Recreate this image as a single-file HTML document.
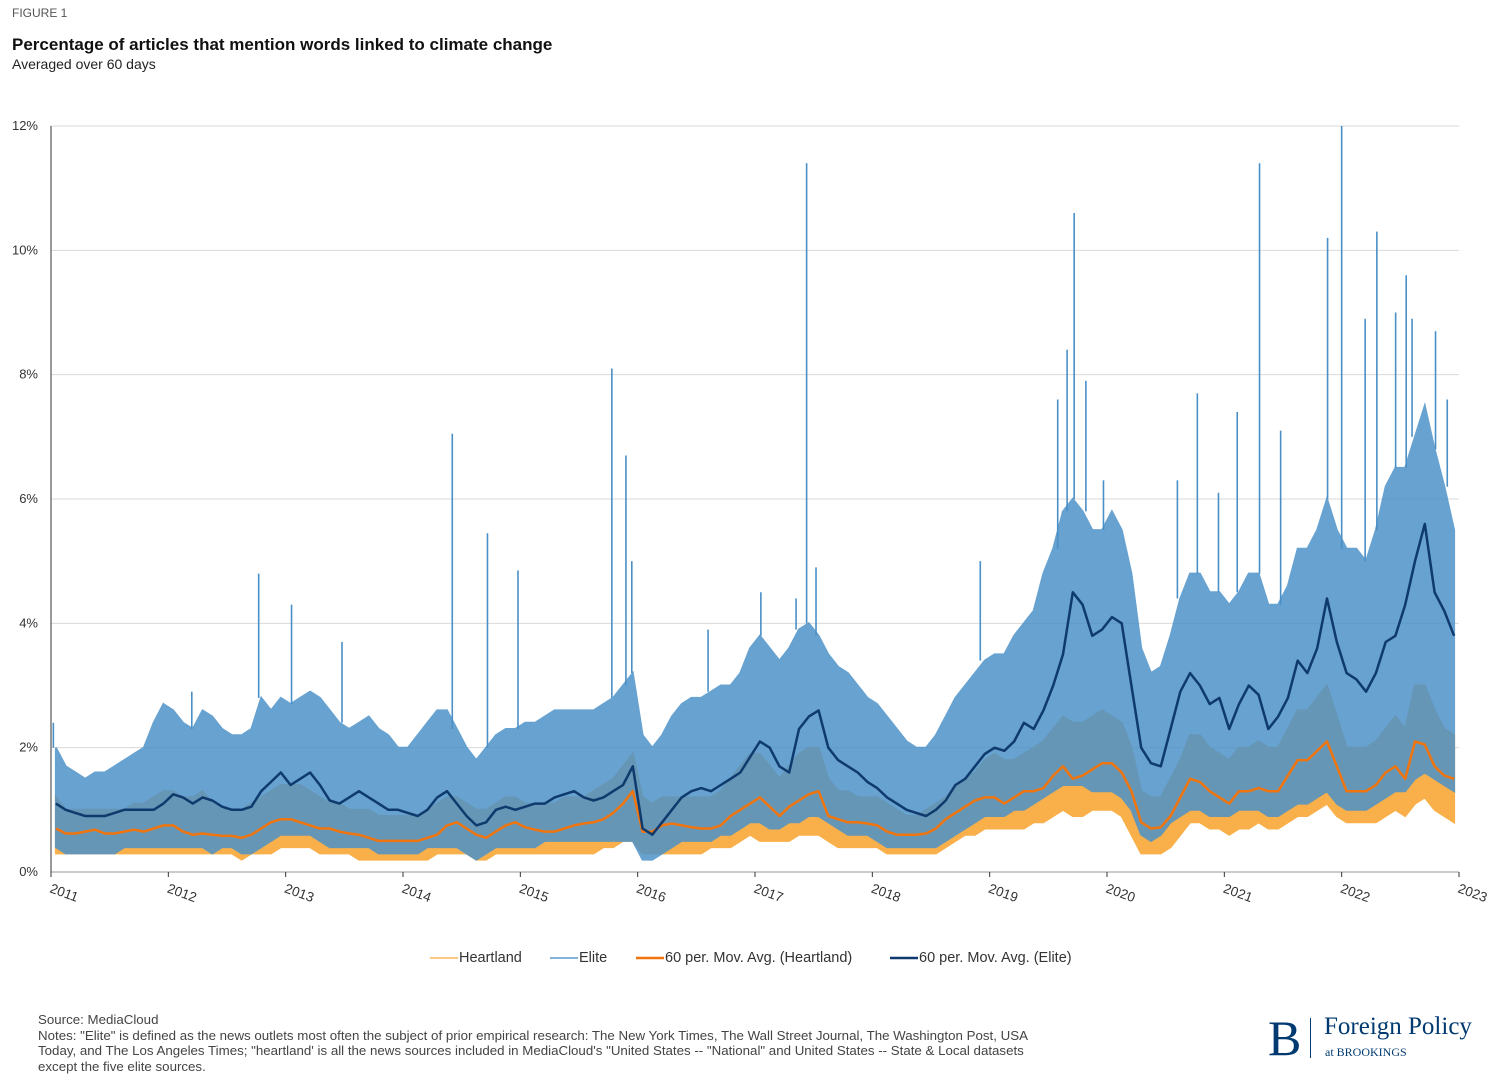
<!DOCTYPE html>
<html><head><meta charset="utf-8"><style>
body{margin:0;background:#fff;font-family:"Liberation Sans",sans-serif;color:#222;}
#wrap{position:relative;width:1499px;height:1087px;overflow:hidden;}
.t{position:absolute;white-space:nowrap;}
</style></head><body>
<div id="wrap">
<div class="t" style="left:12px;top:6px;font-size:12px;color:#555;">FIGURE 1</div>
<div class="t" style="left:12px;top:35px;font-size:17px;font-weight:bold;color:#111;">Percentage of articles that mention words linked to climate change</div>
<div class="t" style="left:12px;top:56px;font-size:14px;color:#222;">Averaged over 60 days</div>
<svg id="chart" width="1499" height="1087" style="position:absolute;left:0;top:0;"></svg>
<div class="t" style="left:38px;top:1012px;font-size:13.3px;color:#444;line-height:15.5px;">Source: MediaCloud<br>Notes: "Elite" is defined as the news outlets most often the subject of prior empirical research: The New York Times, The Wall Street Journal, The Washington Post, USA<br>Today, and The Los Angeles Times; "heartland' is all the news sources included in MediaCloud's "United States -- "National" and United States -- State &amp; Local datasets<br>except the five elite sources.</div>
<div class="t" style="left:1268px;top:1008px;font-family:'Liberation Serif',serif;font-size:50px;color:#003a70;line-height:60px;">B</div>
<div style="position:absolute;left:1310px;top:1018px;width:1px;height:40px;background:#003a70;"></div>
<div class="t" style="left:1324px;top:1013px;font-family:'Liberation Serif',serif;font-size:25px;color:#003a70;">Foreign Policy</div>
<div class="t" style="left:1325px;top:1045px;font-family:'Liberation Serif',serif;font-size:12px;color:#003a70;">at BROOKINGS</div>
</div>
<script>
const startYear=2011;
const yTicks=[0,2,4,6,8,10,12];
const yearLabels=["2011","2012","2013","2014","2015","2016","2017","2018","2019","2020","2021","2022","2023"];
const eliteHigh=[2.0,1.7,1.6,1.5,1.6,1.6,1.7,1.8,1.9,2.0,2.4,2.7,2.6,2.4,2.3,2.6,2.5,2.3,2.2,2.2,2.3,2.8,2.6,2.8,2.7,2.8,2.9,2.8,2.6,2.4,2.3,2.4,2.5,2.3,2.2,2.0,2.0,2.2,2.4,2.6,2.6,2.3,2.0,1.8,2.0,2.2,2.3,2.3,2.4,2.4,2.5,2.6,2.6,2.6,2.6,2.6,2.7,2.8,3.0,3.2,2.2,2.0,2.2,2.5,2.7,2.8,2.8,2.9,3.0,3.0,3.2,3.6,3.8,3.6,3.4,3.6,3.9,4.0,3.8,3.5,3.3,3.2,3.0,2.8,2.7,2.5,2.3,2.1,2.0,2.0,2.2,2.5,2.8,3.0,3.2,3.4,3.5,3.5,3.8,4.0,4.2,4.8,5.2,5.8,6.0,5.8,5.5,5.5,5.8,5.5,4.8,3.6,3.2,3.3,3.8,4.4,4.8,4.8,4.5,4.5,4.3,4.5,4.8,4.8,4.3,4.3,4.6,5.2,5.2,5.5,6.0,5.5,5.2,5.2,5.0,5.5,6.2,6.5,6.5,7.0,7.5,6.8,6.2,5.5];
const eliteLow=[0.4,0.3,0.3,0.3,0.3,0.3,0.3,0.4,0.4,0.4,0.4,0.4,0.4,0.4,0.4,0.4,0.3,0.4,0.4,0.3,0.3,0.4,0.5,0.6,0.6,0.6,0.6,0.5,0.4,0.4,0.4,0.4,0.4,0.3,0.3,0.3,0.3,0.3,0.4,0.4,0.4,0.4,0.3,0.2,0.3,0.4,0.4,0.4,0.4,0.4,0.5,0.5,0.5,0.5,0.5,0.5,0.5,0.5,0.5,0.5,0.2,0.2,0.3,0.4,0.5,0.5,0.5,0.5,0.6,0.6,0.7,0.8,0.8,0.7,0.7,0.8,0.8,0.9,0.9,0.8,0.7,0.6,0.6,0.6,0.5,0.4,0.4,0.4,0.4,0.4,0.4,0.5,0.6,0.7,0.8,0.9,0.9,0.9,1.0,1.0,1.1,1.2,1.3,1.4,1.4,1.4,1.3,1.3,1.3,1.2,1.0,0.6,0.5,0.6,0.8,0.9,1.0,1.0,0.9,0.9,0.9,1.0,1.0,1.0,0.9,0.9,1.0,1.1,1.1,1.2,1.3,1.1,1.0,1.0,1.0,1.1,1.2,1.3,1.3,1.5,1.6,1.5,1.4,1.3];
const heartHigh=[1.2,1.0,1.0,1.0,1.0,1.0,1.0,1.0,1.1,1.1,1.2,1.3,1.3,1.2,1.2,1.3,1.1,1.0,1.0,1.0,1.1,1.2,1.3,1.4,1.4,1.4,1.3,1.2,1.1,1.1,1.0,1.0,1.0,0.9,0.9,0.9,0.9,0.9,1.0,1.1,1.2,1.2,1.1,1.0,1.0,1.1,1.2,1.2,1.1,1.1,1.1,1.1,1.2,1.2,1.2,1.3,1.4,1.5,1.7,1.9,1.2,1.1,1.2,1.2,1.2,1.2,1.2,1.2,1.3,1.5,1.7,1.9,1.9,1.7,1.5,1.7,1.9,2.0,2.0,1.5,1.3,1.3,1.2,1.2,1.2,1.1,1.0,0.9,0.9,1.0,1.1,1.2,1.4,1.5,1.6,1.8,1.9,1.8,1.8,1.9,2.0,2.1,2.3,2.5,2.4,2.4,2.5,2.6,2.5,2.4,2.0,1.3,1.2,1.2,1.5,1.8,2.2,2.2,2.0,1.9,1.8,2.0,2.0,2.1,2.0,2.0,2.3,2.6,2.6,2.8,3.0,2.5,2.0,2.0,2.0,2.1,2.3,2.5,2.3,3.0,3.0,2.6,2.3,2.2];
const heartLow=[0.3,0.3,0.3,0.3,0.3,0.3,0.3,0.3,0.3,0.3,0.3,0.3,0.3,0.3,0.3,0.3,0.3,0.3,0.3,0.2,0.3,0.3,0.3,0.4,0.4,0.4,0.4,0.3,0.3,0.3,0.3,0.2,0.2,0.2,0.2,0.2,0.2,0.2,0.2,0.3,0.3,0.3,0.3,0.2,0.2,0.3,0.3,0.3,0.3,0.3,0.3,0.3,0.3,0.3,0.3,0.3,0.4,0.4,0.5,0.5,0.3,0.3,0.3,0.3,0.3,0.3,0.3,0.4,0.4,0.4,0.5,0.6,0.5,0.5,0.5,0.5,0.6,0.6,0.6,0.5,0.4,0.4,0.4,0.4,0.4,0.3,0.3,0.3,0.3,0.3,0.3,0.4,0.5,0.6,0.6,0.7,0.7,0.7,0.7,0.7,0.8,0.8,0.9,1.0,0.9,0.9,1.0,1.0,1.0,0.9,0.6,0.3,0.3,0.3,0.4,0.6,0.8,0.8,0.7,0.7,0.6,0.7,0.7,0.8,0.7,0.7,0.8,0.9,0.9,1.0,1.1,0.9,0.8,0.8,0.8,0.8,0.9,1.0,0.9,1.1,1.2,1.0,0.9,0.8];
const eliteMA=[1.1,1.0,0.95,0.9,0.9,0.9,0.95,1.0,1.0,1.0,1.0,1.1,1.25,1.2,1.1,1.2,1.15,1.05,1.0,1.0,1.05,1.3,1.45,1.6,1.4,1.5,1.6,1.4,1.15,1.1,1.2,1.3,1.2,1.1,1.0,1.0,0.95,0.9,1.0,1.2,1.3,1.1,0.9,0.75,0.8,1.0,1.05,1.0,1.05,1.1,1.1,1.2,1.25,1.3,1.2,1.15,1.2,1.3,1.4,1.7,0.7,0.6,0.8,1.0,1.2,1.3,1.35,1.3,1.4,1.5,1.6,1.85,2.1,2.0,1.7,1.6,2.3,2.5,2.6,2.0,1.8,1.7,1.6,1.45,1.35,1.2,1.1,1.0,0.95,0.9,1.0,1.15,1.4,1.5,1.7,1.9,2.0,1.95,2.1,2.4,2.3,2.6,3.0,3.5,4.5,4.3,3.8,3.9,4.1,4.0,3.0,2.0,1.75,1.7,2.3,2.9,3.2,3.0,2.7,2.8,2.3,2.7,3.0,2.85,2.3,2.5,2.8,3.4,3.2,3.6,4.4,3.7,3.2,3.1,2.9,3.2,3.7,3.8,4.3,5.0,5.6,4.5,4.2,3.8];
const heartMA=[0.7,0.62,0.62,0.65,0.68,0.62,0.62,0.65,0.68,0.65,0.7,0.75,0.75,0.65,0.6,0.62,0.6,0.58,0.58,0.55,0.6,0.7,0.8,0.85,0.85,0.8,0.75,0.7,0.7,0.65,0.62,0.6,0.55,0.5,0.5,0.5,0.5,0.5,0.55,0.6,0.75,0.8,0.7,0.6,0.55,0.65,0.75,0.8,0.72,0.68,0.65,0.65,0.7,0.75,0.78,0.8,0.85,0.95,1.1,1.3,0.65,0.65,0.75,0.78,0.75,0.72,0.7,0.7,0.75,0.9,1.0,1.1,1.2,1.05,0.9,1.05,1.15,1.25,1.3,0.9,0.85,0.8,0.8,0.78,0.75,0.65,0.6,0.6,0.6,0.62,0.7,0.85,0.95,1.05,1.15,1.2,1.2,1.1,1.2,1.3,1.3,1.35,1.55,1.7,1.5,1.55,1.65,1.75,1.75,1.6,1.3,0.8,0.7,0.72,0.9,1.2,1.5,1.45,1.3,1.2,1.1,1.3,1.3,1.35,1.3,1.3,1.55,1.8,1.8,1.95,2.1,1.7,1.3,1.3,1.3,1.4,1.6,1.7,1.5,2.1,2.05,1.7,1.55,1.5];
const spikeDates=[2011.02,2012.2,2012.77,2013.05,2013.48,2014.42,2014.72,2014.98,2015.78,2015.9,2015.95,2016.6,2017.05,2017.35,2017.44,2017.52,2018.92,2019.58,2019.66,2019.72,2019.82,2019.97,2020.6,2020.77,2020.95,2021.11,2021.3,2021.48,2021.88,2022.0,2022.2,2022.3,2022.46,2022.55,2022.6,2022.8,2022.9];
const spikeValues=[2.4,2.9,4.8,4.3,3.7,7.05,5.45,4.85,8.1,6.7,5.0,3.9,4.5,4.4,11.4,4.9,5.0,7.6,8.4,10.6,7.9,6.3,6.3,7.7,6.1,7.4,11.4,7.1,10.2,12.0,8.9,10.3,9.0,9.6,8.9,8.7,7.6];

const NS='http://www.w3.org/2000/svg';
const svg=document.getElementById('chart');
const X0=51,X1=1459,Y0=872,Y1=126;
const xScale=t=>X0+(t-startYear)/12*(X1-X0);
const yScale=v=>Y0-v/12*(Y0-Y1);
const mx=i=>xScale(startYear+(i+0.5)/12);
function mk(tag,attrs){const e=document.createElementNS(NS,tag);for(const k in attrs)e.setAttribute(k,attrs[k]);svg.appendChild(e);return e;}

yTicks.forEach(v=>{
  const g=mk('line',{x1:X0,x2:X1,y1:yScale(v),y2:yScale(v),stroke:v===0?'#999':'#d9d9d9','stroke-width':1});
  
  
  const t=mk('text',{x:38,y:yScale(v)+4,'text-anchor':'end','font-size':13,fill:'#333','font-family':'Liberation Sans, sans-serif'});
  t.textContent=v+'%';
  
  
});
const ax=mk('line',{x1:X0,x2:X0,y1:Y1,y2:Y0,stroke:'#333','stroke-width':1});


yearLabels.forEach((lab,i)=>{
  const x=xScale(startYear+i);
  const tk=mk('line',{x1:x,x2:x,y1:Y0,y2:Y0+5,stroke:'#333'});
  
  
  const t=mk('text',{x:x-2,y:Y0+20,'font-size':13.5,fill:'#333','font-family':'Liberation Sans, sans-serif',transform:`rotate(20 ${x-2} ${Y0+20})`});
  t.textContent=lab;
  
  
});
function band(hi,lo,color,name,op){
  let d='';
  hi.forEach((v,i)=>{d+=(i?'L':'M')+mx(i).toFixed(1)+','+yScale(v).toFixed(1);});
  for(let i=lo.length-1;i>=0;i--)d+='L'+mx(i).toFixed(1)+','+yScale(lo[i]).toFixed(1);
  const p=mk('path',{d:d+'Z',fill:color,stroke:color,'stroke-width':2,opacity:op});
  
  
}
band(heartHigh,heartLow,'#f9b04a','heartland-series',1);
band(eliteHigh,eliteLow,'#4d92c8','elite-series',0.85);
spikeDates.forEach((d,i)=>{
  const idx=Math.min(143,Math.max(0,Math.floor((d-startYear)*12)));
  const l=mk('line',{x1:xScale(d),x2:xScale(d),y1:yScale(eliteHigh[idx]),y2:yScale(spikeValues[i]),stroke:'#4a8fc6','stroke-width':1.6});
  
  
});
function line(arr,color,name){
  const pts=arr.map((v,i)=>mx(i).toFixed(1)+','+yScale(v).toFixed(1)).join(' ');
  const p=mk('polyline',{points:pts,fill:'none',stroke:color,'stroke-width':2.5,'stroke-linejoin':'round'});
  
  
}
line(heartMA,'#f0750f','moving-average-heartland');
line(eliteMA,'#0f3a6e','moving-average-elite');
const legend=[['Heartland','#f9b95c',430,1.5],['Elite','#5a9acb',550,1.5],['60 per. Mov. Avg. (Heartland)','#f0750f',636,2.5],['60 per. Mov. Avg. (Elite)','#0f3a6e',890,2.5]];
legend.forEach(([lab,c,x,w])=>{
  const l=mk('line',{x1:x,x2:x+28,y1:958,y2:958,stroke:c,'stroke-width':w});
  
  
  const t=mk('text',{x:x+29,y:962,'font-size':14.5,fill:'#333','font-family':'Liberation Sans, sans-serif'});
  t.textContent=lab;
  
  
});
</script>
</body></html>
